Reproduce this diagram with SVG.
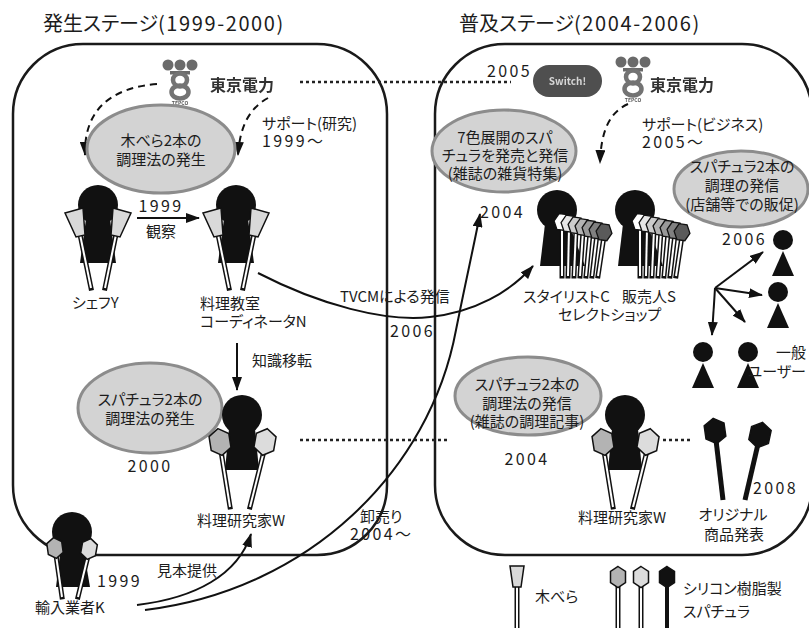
<svg xmlns="http://www.w3.org/2000/svg" width="809" height="628" viewBox="0 0 809 628">
<style>
text { font-family: "Noto Sans CJK JP","Noto Sans",sans-serif; font-size:15px; fill:#1c1c1c; font-feature-settings:"palt" 1; }
.num { font-size:16px; letter-spacing:2.4px; }
.ttl { font-size:20px; }
.ttl tspan { letter-spacing:1.6px; }
.mid { text-anchor:middle; }
.panel { fill:none; stroke:#1a1a1a; stroke-width:2.5; }
.bubble { fill:#d3d3d3; stroke:#8c8c8c; stroke-width:3; }
.arr { fill:none; stroke:#111; stroke-width:2; marker-end:url(#ah); }
.dash { fill:none; stroke:#111; stroke-width:2; stroke-dasharray:7 5; marker-end:url(#ah); }
.dot { stroke:#222; stroke-width:2.5; stroke-dasharray:3 3; }
.ink { fill:#111; }
.hb { stroke:#111; stroke-width:5; stroke-linecap:square; }
.hw { stroke:#fff; stroke-width:2; }
.hk { stroke:#111; stroke-width:5; }
.pad { fill:#d9d9d9; stroke:#111; stroke-width:1.5; }
.s1 { fill:#b3b3b3; }
.s2 { fill:#dcdcdc; }
.s3 { fill:#111; }
.logo { fill:#6a6a6a; }
.logoRing { fill:none; stroke:#737373; stroke-width:4.5; }
.brand { font-size:16px; font-weight:bold; fill:#333; }
</style>
<defs>
  <marker id="ah" viewBox="0 0 14 10" refX="13" refY="5" markerWidth="14" markerHeight="10" markerUnits="userSpaceOnUse" orient="auto">
    <path d="M0,0 L14,5 L0,10 z" fill="#111"/>
  </marker>
  <filter id="soft" x="-10%" y="-10%" width="120%" height="120%">
    <feGaussianBlur stdDeviation="0.7"/>
  </filter>
  <!-- silicone spatula heads -->
  <polygon id="hex" points="0,-13.5 10,-7 10,7 0,13.5 -10,7 -10,-7" stroke="#111" stroke-width="1.5"/>
  <polygon id="hexS" points="0,-10.5 7.5,-5.5 7.5,5.5 0,10.5 -7.5,5.5 -7.5,-5.5" stroke="#111" stroke-width="1.5"/>
  <polygon id="fhex" points="-8,0 -4,-8 4,-8 8,0 4,8 -4,8" stroke="#111" stroke-width="1.3"/>
  <!-- person holding two wooden spatulas -->
  <g id="woodFig">
    <circle r="20" class="ink"/>
    <polygon class="ink" points="-12,14 12,14 18,58 -18,58"/>
    <line class="hb" x1="-18.5" y1="27" x2="-7" y2="83"/><line class="hw" x1="-18.5" y1="27" x2="-7" y2="83"/>
    <line class="hb" x1="18.5" y1="27" x2="7" y2="83"/><line class="hw" x1="18.5" y1="27" x2="7" y2="83"/>
    <polygon class="pad" points="-33,8 -15,3 -13,30 -22,32"/>
    <polygon class="pad" points="15,3 33,8 22,32 13,30"/>
  </g>
  <!-- person holding two silicone spatulas -->
  <g id="siliFig">
    <circle r="20" class="ink"/>
    <polygon class="ink" points="-13,14 13,14 17,55 -17,55"/>
    <line class="hb" x1="-21" y1="36" x2="-12" y2="92"/><line class="hw" x1="-21" y1="36" x2="-12" y2="92"/>
    <line class="hb" x1="22" y1="36" x2="8" y2="92"/><line class="hw" x1="22" y1="36" x2="8" y2="92"/>
    <use href="#hex" class="s1" transform="translate(-22,27) rotate(-9)"/>
    <use href="#hex" class="s2" transform="translate(23,27) rotate(10)"/>
  </g>
  <!-- person holding a fan of seven coloured spatulas -->
  <g id="fanFig">
    <circle r="20" class="ink"/>
    <polygon class="ink" points="-12,14 12,14 28,56 -17,56"/>
    <line class="hb" x1="5" y1="16" x2="5" y2="66"/><line class="hw" x1="5" y1="16" x2="5" y2="66"/>
    <use href="#fhex" fill="#ffffff" transform="translate(5,12) rotate(8)"/>
    <line class="hb" x1="12" y1="18" x2="11" y2="66"/><line class="hw" x1="12" y1="18" x2="11" y2="66"/>
    <use href="#fhex" fill="#e6e6e6" transform="translate(12,13.7) rotate(8)"/>
    <line class="hb" x1="19" y1="19" x2="17" y2="66"/><line class="hw" x1="19" y1="19" x2="17" y2="66"/>
    <use href="#fhex" fill="#cccccc" transform="translate(19,15.4) rotate(8)"/>
    <line class="hb" x1="26" y1="21" x2="23" y2="66"/><line class="hw" x1="26" y1="21" x2="23" y2="66"/>
    <use href="#fhex" fill="#b3b3b3" transform="translate(26,17.1) rotate(8)"/>
    <line class="hb" x1="33" y1="23" x2="29" y2="66"/><line class="hw" x1="33" y1="23" x2="29" y2="66"/>
    <use href="#fhex" fill="#999999" transform="translate(33,18.8) rotate(8)"/>
    <line class="hb" x1="40" y1="24" x2="35" y2="66"/><line class="hw" x1="40" y1="24" x2="35" y2="66"/>
    <use href="#fhex" fill="#808080" transform="translate(40,20.5) rotate(8)"/>
    <line class="hb" x1="47" y1="26" x2="41" y2="66"/><line class="hw" x1="47" y1="26" x2="41" y2="66"/>
    <use href="#fhex" fill="#5a5a5a" transform="translate(47,22.2) rotate(8)"/>
  </g>
  <!-- general user -->
  <g id="user">
    <circle r="10" class="ink"/>
    <polygon class="ink" points="0,11 11,36 -11,36"/>
  </g>
  <!-- utility company mark -->
  <g id="mark">
    <circle cx="-12" cy="0" r="5.5" class="logo"/>
    <circle cx="0" cy="0" r="5.5" class="logo"/>
    <circle cx="12" cy="0" r="5.5" class="logo"/>
    <rect x="-10" y="6" width="20" height="3.5" class="logo"/>
    <ellipse cx="0" cy="15" rx="7" ry="6.5" class="logoRing"/>
    <ellipse cx="0" cy="27" rx="8.5" ry="6.5" class="logoRing"/>
    <text x="0" y="40" class="mid" style="font-size:5px;font-weight:bold;fill:#555">TEPCO</text>
  </g>
</defs>

<!-- stage titles -->
<text x="43" y="31" class="ttl">発生ステージ<tspan>(1999-2000)</tspan></text>
<text x="459" y="31" class="ttl">普及ステージ<tspan>(2004-2006)</tspan></text>

<!-- stage frames -->
<rect id="stage-emergence" class="panel" x="13" y="44" width="374" height="511" rx="70"/>
<rect id="stage-diffusion" class="panel" x="435" y="44" width="377" height="511" rx="70"/>

<!-- connectors -->
<g id="connectors">
  <line class="dot" x1="300" y1="82" x2="511" y2="82"/>
  <line class="dot" x1="300" y1="440" x2="450" y2="440"/>
  <line class="dot" x1="663" y1="440" x2="690" y2="440"/>
  <path class="dash" d="M157,84 C110,88 84,110 85,155"/>
  <path class="dash" d="M268,98 C250,108 240,125 238,155"/>
  <path class="dash" d="M628,104 C610,112 601,130 600,163"/>
  <line class="arr" x1="137" y1="218" x2="199" y2="218"/>
  <line class="arr" x1="237" y1="343" x2="237" y2="390"/>
  <path class="arr" d="M258,273 C320,305 385,322 430,317 C475,312 510,292 533,266"/>
  <path class="arr" d="M137,605 C195,598 238,575 251,534"/>
  <path class="arr" d="M145,610 C310,590 430,470 456,330 C466,280 474,245 480,214"/>
  <line class="arr" x1="715" y1="288" x2="763" y2="252"/>
  <line class="arr" x1="715" y1="288" x2="762" y2="295"/>
  <line class="arr" x1="715" y1="288" x2="745" y2="322"/>
  <line class="arr" x1="715" y1="288" x2="712" y2="335"/>
</g>

<!-- connector labels -->
<text x="262" y="129">サポート(研究)<tspan x="262" dy="18" class="num">1999〜</tspan></text>
<text x="161" y="212" class="mid num">1999</text>
<text x="161" y="237" class="mid">観察</text>
<text x="252" y="366">知識移転</text>
<text x="340" y="302">TVCMによる発信</text>
<text x="390" y="337" class="num">2006</text>
<text x="157" y="576">見本提供</text>
<text x="360" y="522">卸売り<tspan x="350" dy="18" class="num">2004〜</tspan></text>
<text x="642" y="130">サポート(ビジネス)<tspan x="642" dy="18" class="num">2005〜</tspan></text>

<!-- support company (emergence) -->
<g id="tepco-1" filter="url(#soft)">
  <use href="#mark" transform="translate(180,65)"/>
  <text x="210" y="91" class="brand">東京電力</text>
</g>

<!-- support company (diffusion) -->
<g id="tepco-2" filter="url(#soft)">
  <use href="#mark" transform="translate(633,62)"/>
  <text x="650" y="91" class="brand">東京電力</text>
</g>

<!-- Switch! campaign -->
<g id="switch">
  <text x="487" y="77" class="num">2005</text>
  <g filter="url(#soft)">
    <rect x="533" y="65" width="69" height="32" rx="16" fill="#4f4f4f"/>
    <text x="567.5" y="85" class="mid" style="font-size:10px;font-weight:bold;fill:#d6d6d6">Switch!</text>
  </g>
</g>

<!-- bubble: wooden spatula method -->
<g id="bubble-wood">
  <ellipse class="bubble" cx="161" cy="149" rx="74" ry="44"/>
  <text x="161" y="146" class="mid">木べら2本の<tspan x="161" dy="19">調理法の発生</tspan></text>
</g>

<!-- chef Y -->
<g id="chef-y">
  <use href="#woodFig" transform="translate(98,205)"/>
  <text x="72" y="308">シェフY</text>
</g>

<!-- cooking school coordinator N -->
<g id="coordinator-n">
  <use href="#woodFig" transform="translate(236,205)"/>
  <text x="200" y="309">料理教室<tspan x="200" dy="18">コーディネータN</tspan></text>
</g>

<!-- bubble: two-spatula method -->
<g id="bubble-spatula">
  <ellipse class="bubble" cx="150" cy="408" rx="72" ry="45"/>
  <text x="150" y="405" class="mid">スパチュラ2本の<tspan x="150" dy="19">調理法の発生</tspan></text>
  <text x="150" y="472" class="mid num">2000</text>
</g>

<!-- cooking researcher W (emergence) -->
<g id="researcher-w1">
  <use href="#siliFig" transform="translate(242,415)"/>
  <text x="197" y="526">料理研究家W</text>
</g>

<!-- importer K -->
<g id="importer-k">
  <circle cx="72" cy="532" r="20" class="ink"/>
  <polygon class="ink" points="61,546 83,546 90,587 56,587"/>
  <line class="hb" x1="56" y1="555" x2="62" y2="597"/><line class="hw" x1="56" y1="555" x2="62" y2="597"/>
  <line class="hb" x1="88" y1="556" x2="78" y2="597"/><line class="hw" x1="88" y1="556" x2="78" y2="597"/>
  <use href="#hexS" class="s1" transform="translate(55,548) rotate(-8)"/>
  <use href="#hexS" class="s2" transform="translate(89,549) rotate(10)"/>
  <text x="97" y="587" class="num">1999</text>
  <text x="35" y="613">輸入業者K</text>
</g>

<!-- bubble: seven colours -->
<g id="bubble-colors">
  <ellipse class="bubble" cx="504" cy="151" rx="72" ry="41"/>
  <text x="505" y="143" class="mid">7色展開のスパ<tspan x="505" dy="18">チュラを発売と発信</tspan><tspan x="505" dy="18">(雑誌の雑貨特集)</tspan></text>
</g>

<!-- stylist C -->
<g id="stylist-c">
  <use href="#fanFig" transform="translate(557,210)"/>
  <text x="480" y="218" class="num">2004</text>
  <text x="523" y="302">スタイリストC<tspan x="558" dy="18">セレクトショップ</tspan></text>
</g>

<!-- seller S -->
<g id="seller-s">
  <use href="#fanFig" transform="translate(635,210)"/>
  <text x="622" y="302">販売人S</text>
</g>

<!-- bubble: in-store promotion -->
<g id="bubble-store">
  <ellipse class="bubble" cx="741" cy="189" rx="67" ry="38"/>
  <text x="742" y="172" class="mid">スパチュラ2本の<tspan x="742" dy="19">調理の発信</tspan><tspan x="742" dy="19">(店舗等での販促)</tspan></text>
</g>

<!-- general users -->
<g id="users">
  <text x="722" y="245" class="num">2006</text>
  <use href="#user" transform="translate(783,240)"/>
  <use href="#user" transform="translate(778,292)"/>
  <use href="#user" transform="translate(703,352)"/>
  <use href="#user" transform="translate(748,352)"/>
  <text x="806" y="358" style="text-anchor:end">一般<tspan x="806" dy="19">ユーザー</tspan></text>
</g>

<!-- bubble: magazine recipes -->
<g id="bubble-recipe">
  <ellipse class="bubble" cx="528" cy="396" rx="73" ry="39"/>
  <text x="527" y="390" class="mid">スパチュラ2本の<tspan x="527" dy="19">調理法の発信</tspan><tspan x="527" dy="18">(雑誌の調理記事)</tspan></text>
  <text x="527" y="465" class="mid num">2004</text>
</g>

<!-- cooking researcher W (diffusion) -->
<g id="researcher-w2">
  <use href="#siliFig" transform="translate(625,415)"/>
  <text x="578" y="523">料理研究家W</text>
</g>

<!-- original product -->
<g id="original-product">
  <line class="hk" x1="716" y1="440" x2="723" y2="500"/>
  <line class="hk" x1="758" y1="444" x2="745" y2="500"/>
  <use href="#hex" class="s3" transform="translate(715,431) rotate(-8) scale(1,0.95)"/>
  <use href="#hex" class="s3" transform="translate(760,435) rotate(12) scale(1,0.95)"/>
  <text x="753" y="494" class="num">2008</text>
  <text x="733" y="520" class="mid">オリジナル<tspan x="734" dy="20">商品発表</tspan></text>
</g>

<!-- legend -->
<g id="legend">
  <line class="hb" x1="517" y1="586" x2="517" y2="632"/><line class="hw" x1="517" y1="586" x2="517" y2="632"/>
  <polygon class="pad" points="510,566 524,566 521,587 513,587"/>
  <text x="535" y="602">木べら</text>
  <line class="hb" x1="618" y1="586" x2="618" y2="632"/><line class="hw" x1="618" y1="586" x2="618" y2="632"/>
  <line class="hb" x1="641" y1="586" x2="641" y2="632"/><line class="hw" x1="641" y1="586" x2="641" y2="632"/>
  <line class="hk" x1="667" y1="586" x2="667" y2="632" style="stroke-width:4"/>
  <use href="#hexS" class="s1" transform="translate(618,577)"/>
  <use href="#hexS" class="s2" transform="translate(641,577)"/>
  <use href="#hexS" class="s3" transform="translate(667,577)"/>
  <text x="683" y="594">シリコン樹脂製<tspan x="683" dy="23">スパチュラ</tspan></text>
</g>
</svg>
